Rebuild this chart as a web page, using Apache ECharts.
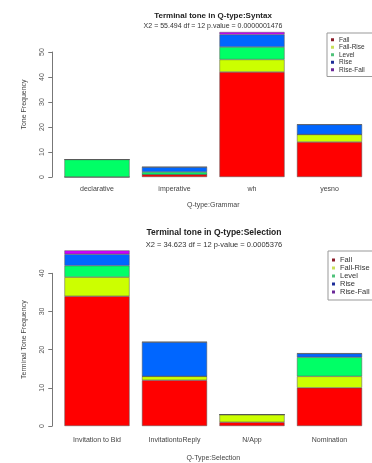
<!DOCTYPE html>
<html>
<head>
<meta charset="utf-8">
<script src="https://cdn.jsdelivr.net/npm/echarts@6/dist/echarts.min.js"></script>
<style>html,body{margin:0;padding:0;background:#fff}#c{width:372px;height:463px}</style>
</head>
<body>
<div id="c"></div>
<script>
const tones = ['Fall', 'Fall-Rise', 'Level', 'Rise', 'Rise-Fall'];
const toneColors = ['#FF0000', '#CCFF00', '#00FF66', '#0066FF', '#CC00FF'];
const legendIconColors = ['#8a1c2a', '#c9df5a', '#4fc27a', '#1c2c98', '#6a2898'];

const syntaxCats = ['declarative', 'imperative', 'wh', 'yesno'];
const syntaxFall = [0, 1, 42, 14];
const syntaxFallRise = [0, 0, 5, 3];
const syntaxLevel = [7, 1, 5, 0];
const syntaxRise = [0, 2, 5, 4];
const syntaxRiseFall = [0, 0, 1, 0];
const syntaxTicks = [0, 10, 20, 30, 40, 50];

const selCats = ['Invitation to Bid', 'InvitationtoReply', 'N/App', 'Nomination'];
const selFall = [34, 12, 1, 10];
const selFallRise = [5, 1, 2, 3];
const selLevel = [3, 0, 0, 5];
const selRise = [3, 9, 0, 1];
const selRiseFall = [1, 0, 0, 0];
const selTicks = [0, 10, 20, 30, 40];

const syntaxSeries = [syntaxFall, syntaxFallRise, syntaxLevel, syntaxRise, syntaxRiseFall];
const selSeries = [selFall, selFallRise, selLevel, selRise, selRiseFall];

const FONT = '"Liberation Sans", Arial, sans-serif';
const chart = echarts.init(document.getElementById('c'), null, {renderer: 'canvas'});

function mkSeries(data, idx, stack) {
  return data.map((vals, i) => ({
    name: tones[i], type: 'bar', stack: stack, xAxisIndex: idx, yAxisIndex: idx,
    data: vals, clip: false, barCategoryGap: '16%',
    itemStyle: {color: toneColors[i], borderColor: '#555', borderWidth: 0.5},
    emphasis: {disabled: true}
  }));
}

function mkLegend(left, top, fontSize, lh, pad) {
  return {
    orient: 'vertical', left: left, top: top, padding: pad,
    borderColor: '#999', borderWidth: 1, itemWidth: 3, itemHeight: 3, itemGap: 0,
    icon: 'rect',
    itemStyle: {borderWidth: 0},
    textStyle: {fontFamily: FONT, fontSize: fontSize, color: '#333', lineHeight: lh},
    data: tones.map((t, i) => ({name: t, itemStyle: {color: legendIconColors[i], borderWidth: 0}}))
  };
}

function mkY(idx, ticks, name) {
  return {
    type: 'value', gridIndex: idx, min: ticks[0], max: ticks[ticks.length - 1],
    interval: ticks[1] - ticks[0], offset: 6,
    axisLine: {show: true, lineStyle: {color: '#777', width: 1}},
    axisTick: {show: true, length: 4, lineStyle: {color: '#777'}},
    axisLabel: {rotate: 90, margin: 7, fontFamily: FONT, fontSize: 7, color: '#555'},
    splitLine: {show: false},
    name: name, nameLocation: 'middle', nameGap: 25,
    nameTextStyle: {fontFamily: FONT, fontSize: 7, color: '#444', padding: [0, 0, 0, 20]}
  };
}

function mkX(idx, cats, name, margin, gap) {
  return {
    type: 'category', gridIndex: idx, data: cats,
    axisLine: {show: false}, axisTick: {show: false},
    axisLabel: {margin: margin, fontFamily: FONT, fontSize: 7, color: '#444', interval: 0},
    name: name, nameLocation: 'middle', nameGap: gap,
    nameTextStyle: {fontFamily: FONT, fontSize: 7, color: '#444'}
  };
}

chart.setOption({
  animation: false,
  backgroundColor: '#fff',
  title: [
    {text: 'Terminal tone in Q-type:Syntax', subtext: 'X2 = 55.494 df = 12 p.value = 0.0000001476',
     left: 213, top: 12, textAlign: 'center', itemGap: 3, padding: 0,
     textStyle: {fontFamily: FONT, fontSize: 8, fontWeight: 'bold', color: '#222'},
     subtextStyle: {fontFamily: FONT, fontSize: 7, color: '#333'}},
    {text: 'Terminal tone in Q-type:Selection', subtext: 'X2 = 34.623 df = 12 p-value = 0.0005376',
     left: 214, top: 228, textAlign: 'center', itemGap: 4, padding: 0,
     textStyle: {fontFamily: FONT, fontSize: 8.5, fontWeight: 'bold', color: '#222'},
     subtextStyle: {fontFamily: FONT, fontSize: 7.5, color: '#333'}}
  ],
  legend: [
    mkLegend(327, 33, 6.5, 7.5, [3, 20, 3, 4]),
    mkLegend(328, 251, 7.5, 8, [5, 20, 4, 4])
  ],
  grid: [
    {left: 58.25, width: 310, top: 52, height: 125},
    {left: 58.25, width: 310, top: 273.3, height: 154.4}
  ],
  xAxis: [
    mkX(0, syntaxCats, 'Q-type:Grammar', 9, 25),
    mkX(1, selCats, 'Q-Type:Selection', 11, 29)
  ],
  yAxis: [
    mkY(0, syntaxTicks, 'Tone Frequency'),
    mkY(1, selTicks, 'Terminal Tone Frequency')
  ],
  series: [].concat(mkSeries(syntaxSeries, 0, 'syn'), mkSeries(selSeries, 1, 'sel'))
});
</script>
</body>
</html>
